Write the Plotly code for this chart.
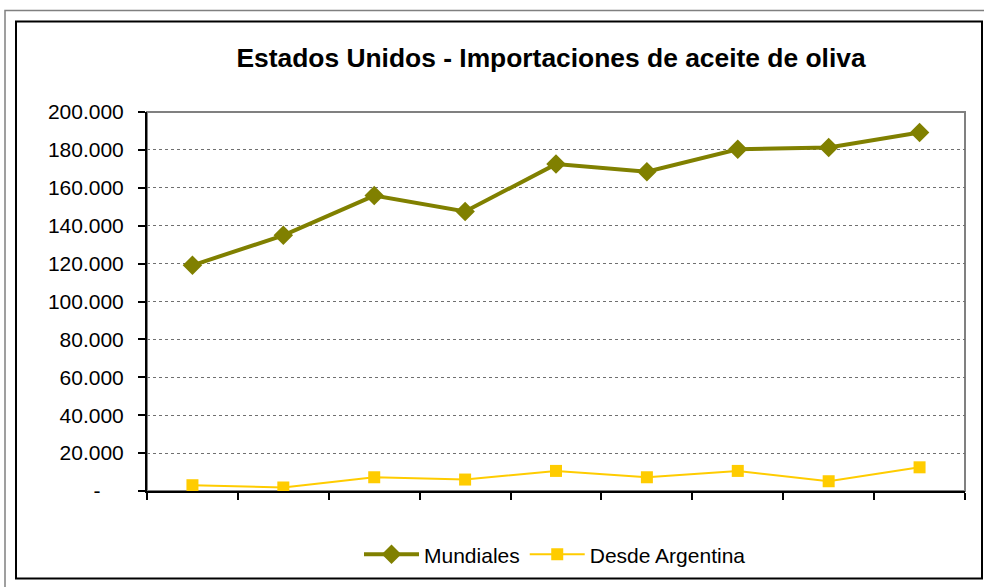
import plotly.graph_objects as go

W, H = 984, 587
L, R, T, B = 147, 19, 112, 94

periodos = [1, 2, 3, 4, 5, 6, 7, 8, 9]
mundiales = [119100, 134900, 155900, 147500, 172500, 168500, 180300, 181300, 189200]
argentina = [3050, 1850, 7250, 6050, 10600, 7250, 10600, 5150, 12500]

y_vals = [0, 20000, 40000, 60000, 80000, 100000, 120000, 140000, 160000, 180000, 200000]
y_text = ["-\u00a0\u00a0\u00a0\u00a0", "20.000", "40.000", "60.000", "80.000", "100.000",
          "120.000", "140.000", "160.000", "180.000", "200.000"]
x_ticks = [0.5 + i for i in range(10)]

pw, ph = W - L - R, H - T - B


def px_x(x):
    return (x - L) / pw


def px_y(y):
    return (H - B - y) / ph


fig = go.Figure()
fig.add_trace(go.Scatter(
    x=periodos, y=mundiales, name="Mundiales", mode="lines+markers",
    line=dict(color="#808000", width=4),
    marker=dict(symbol="diamond", size=15, color="#808000"),
))
fig.add_trace(go.Scatter(
    x=periodos, y=argentina, name="Desde Argentina", mode="lines+markers",
    line=dict(color="#FFCC00", width=2),
    marker=dict(symbol="square", size=12, color="#FFCC00"),
))

shapes = [
    # plot area border (top / right in grey)
    dict(type="rect", xref="paper", yref="paper", x0=0, y0=0, x1=1, y1=1,
         line=dict(color="#808080", width=2), layer="below"),
    # inner black chart frame
    dict(type="rect", xref="paper", yref="paper",
         x0=px_x(16), x1=px_x(982), y0=px_y(581), y1=px_y(21),
         line=dict(color="black", width=2)),
    # outer grey frame (cut by the page edges)
    dict(type="rect", xref="paper", yref="paper",
         x0=px_x(5), x1=px_x(1000), y0=px_y(600), y1=px_y(10),
         line=dict(color="#808080", width=1.5)),
]

fig.update_layout(
    width=W, height=H,
    margin=dict(l=L, r=R, t=T, b=B),
    paper_bgcolor="white", plot_bgcolor="white",
    font=dict(family="Liberation Sans, Arial", size=21, color="black"),
    title=dict(text="<b>Estados Unidos - Importaciones de aceite de oliva</b>",
               x=551 / W, xanchor="center", xref="container",
               y=1 - 58 / H, yanchor="middle", yref="container",
               font=dict(size=26.4)),
    showlegend=True,
    legend=dict(orientation="h", x=px_x(555), xanchor="center",
                y=px_y(557), yanchor="middle", font=dict(size=21),
                itemwidth=55, bgcolor="rgba(0,0,0,0)"),
    shapes=shapes,
)
fig.update_xaxes(
    range=[0.5, 9.5], tickvals=x_ticks, ticktext=[""] * len(x_ticks),
    ticks="outside", ticklen=7, tickwidth=2, tickcolor="black",
    showgrid=False, zeroline=False,
    showline=True, linecolor="black", linewidth=2,
)
fig.update_yaxes(
    range=[0, 200000], tickvals=y_vals, ticktext=y_text,
    ticks="outside", ticklen=7, tickwidth=2, tickcolor="black",
    ticklabelstandoff=10,
    showgrid=True, gridcolor="#707070", gridwidth=1, griddash="dot",
    zeroline=False, showline=True, linecolor="black", linewidth=2,
)

fig.write_html("out.html", config={"displayModeBar": False},
               post_script="document.body.style.margin='0';")
